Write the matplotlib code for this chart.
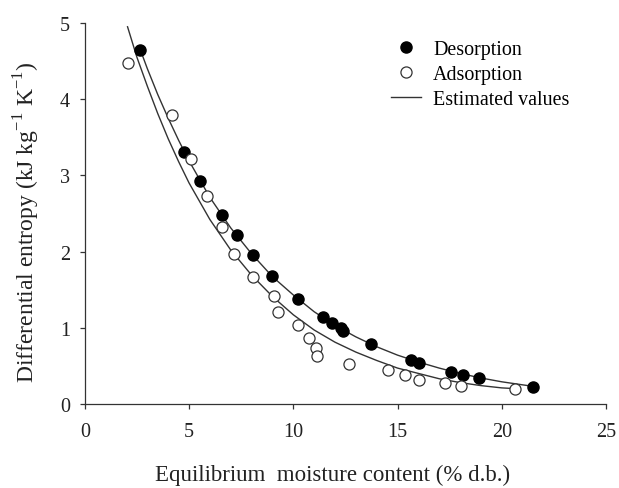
import matplotlib
matplotlib.use('Agg')
import matplotlib.pyplot as plt

plt.rcParams['font.family'] = ['Liberation Serif', 'DejaVu Serif']
plt.rcParams['mathtext.fontset'] = 'custom'
plt.rcParams['mathtext.rm'] = 'Liberation Serif'

# observed points
des_x = [2.66, 4.77, 5.54, 6.57, 7.29, 8.06, 8.96, 10.23, 11.43, 11.86, 12.27, 12.40,
         13.75, 15.64, 16.04, 17.55, 18.16, 18.93, 21.52]
des_y = [4.65, 3.31, 2.92, 2.48, 2.22, 1.96, 1.68, 1.38, 1.14, 1.06, 0.99, 0.96,
         0.79, 0.58, 0.54, 0.42, 0.38, 0.34, 0.22]

ads_x = [2.08, 4.17, 5.10, 5.87, 6.57, 7.15, 8.06, 9.07, 9.26, 10.25, 10.75, 11.07,
         11.15, 12.66, 14.55, 15.35, 16.04, 17.27, 18.04, 20.64]
ads_y = [4.48, 3.79, 3.22, 2.73, 2.32, 1.97, 1.67, 1.41, 1.20, 1.03, 0.86, 0.73,
         0.63, 0.53, 0.45, 0.38, 0.32, 0.27, 0.23, 0.20]

# estimated (model) curves
des_fit_x = [2.66, 3, 3.5, 4, 4.5, 5, 6, 7, 8, 9, 10, 11, 12, 13, 14, 15, 16, 17, 18, 19, 20, 21, 21.52]
des_fit_y = [4.65, 4.40, 4.06, 3.75, 3.46, 3.19, 2.71, 2.31, 1.97, 1.67, 1.43, 1.21, 1.03,
             0.88, 0.75, 0.64, 0.55, 0.47, 0.40, 0.34, 0.29, 0.25, 0.23]
ads_fit_x = [2.05, 2.5, 3, 3.5, 4, 4.5, 5, 6, 7, 8, 9, 10, 11, 12, 13, 14, 15, 16, 17, 18, 19, 20, 20.65]
ads_fit_y = [4.95, 4.55, 4.17, 3.81, 3.48, 3.18, 2.90, 2.42, 2.02, 1.69, 1.41, 1.17, 0.97,
             0.81, 0.68, 0.57, 0.47, 0.40, 0.33, 0.28, 0.24, 0.21, 0.20]

fig = plt.figure(figsize=(6.19, 4.89), dpi=100)
ax = fig.add_axes([0.137, 0.172, 0.842, 0.779])

line, = ax.plot(des_fit_x, des_fit_y, color='#333333', lw=1.0, label='Estimated values')
ax.plot(ads_fit_x, ads_fit_y, color='#333333', lw=1.0)
d, = ax.plot(des_x, des_y, 'o', color='black', ms=8, label='Desorption')
a, = ax.plot(ads_x, ads_y, 'o', mfc='white', mec='#333333', mew=0.9, ms=8, label='Adsorption')

ax.set_xlim(0, 25)
ax.set_ylim(0, 5)
ax.set_xticks([0, 5, 10, 15, 20, 25])
ax.set_yticks([0, 1, 2, 3, 4, 5])
ax.spines['top'].set_visible(False)
ax.spines['right'].set_visible(False)
for s in ['left', 'bottom']:
    ax.spines[s].set_color('#333333')
    ax.spines[s].set_linewidth(0.9)
ax.tick_params(direction='out', length=3.6, width=0.9, colors='#333333', labelsize=14.5,
               labelcolor='#222222')
ax.tick_params(axis='x', pad=9.5)
ax.tick_params(axis='y', pad=7)

ax.set_xlabel('Equilibrium  moisture content (% d.b.)', fontsize=16.5, color='#222222')
ax.xaxis.set_label_coords(0.476, -0.158)
ax.set_ylabel('Differential entropy (kJ kg$^{-1}$ K$^{-1}$)', fontsize=17, color='#222222')
ax.yaxis.set_label_coords(-0.082, 0.48)

ax.legend(handles=[d, a, line], loc='upper left', bbox_to_anchor=(383 / 619, 1 - 33 / 489),
          bbox_transform=fig.transFigure, frameon=False, borderaxespad=0,
          fontsize=14.4, handlelength=1.5, handletextpad=0.6, labelspacing=0.3)

fig.savefig('out.png', dpi=100)
